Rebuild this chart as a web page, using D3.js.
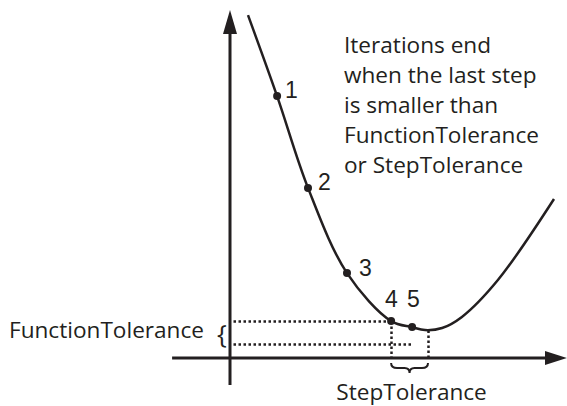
<!DOCTYPE html>
<html>
<head>
<meta charset="utf-8">
<script src="https://d3js.org/d3.v7.min.js"></script>
<style>
  body { margin: 0; background: #fff; }
</style>
</head>
<body>
<div id="chart"></div>
<script>
// curve (x, f(x)) in plot units
const curveX = [0.6, 1.57, 2.6, 3.9, 5.37, 6.07, 6.5, 7.07, 7.73, 8.93, 10.8];
const curveY = [11.43, 8.73, 5.67, 2.83, 1.23, 1.03, 0.93, 1.0, 1.37, 2.6, 5.3];

// iterates
const iterLabels = ["1", "2", "3", "4", "5"];
const iterX = [1.57, 2.6, 3.9, 5.37, 6.07];
const iterY = [8.73, 5.67, 2.83, 1.23, 1.03];

// tolerance box
const funTolTop = 1.23, funTolBottom = 0.47;
const stepTolLeft = 5.37, stepTolRight = 6.6;
const stepTolRightY = 0.93;

const noteLines = ["Iterations end", "when the last step", "is smaller than",
                   "FunctionTolerance", "or StepTolerance"];

const W = 567, H = 406;
const ink = "#231f20";

const x = d3.scaleLinear().domain([0, 11]).range([230, 560]);
const y = d3.scaleLinear().domain([0, 11.5]).range([358, 13]);

const svg = d3.select("#chart").append("svg")
  .attr("width", W).attr("height", H);

// axes with arrow heads
svg.append("line")
  .attr("x1", x(-1.93)).attr("x2", x(10.5))
  .attr("y1", y(0)).attr("y2", y(0))
  .attr("stroke", ink).attr("stroke-width", 3);
svg.append("path")
  .attr("d", `M${x(11.23)},${y(0)} L${x(10.5)},${y(0) - 7} L${x(10.5)},${y(0) + 7} Z`)
  .attr("fill", ink);

svg.append("line")
  .attr("x1", x(0)).attr("x2", x(0))
  .attr("y1", y(-0.9)).attr("y2", y(10.9))
  .attr("stroke", ink).attr("stroke-width", 3);
svg.append("path")
  .attr("d", `M${x(0)},${y(11.6)} L${x(0) - 7},${y(10.8)} L${x(0) + 7},${y(10.8)} Z`)
  .attr("fill", ink);

// dotted tolerance lines
const dotted = (x1, y1, x2, y2) => svg.append("line")
  .attr("x1", Math.round(x(x1)) + 0.5).attr("y1", Math.round(y(y1)) + 0.5)
  .attr("x2", Math.round(x(x2)) + 0.5).attr("y2", Math.round(y(y2)) + 0.5)
  .attr("stroke", ink).attr("stroke-width", 2.5)
  .attr("stroke-dasharray", "2.5,2.5");
dotted(0.1, funTolTop, stepTolLeft, funTolTop);
dotted(0.1, funTolBottom, iterX[4], funTolBottom);
dotted(stepTolLeft, funTolTop, stepTolLeft, 0);
dotted(stepTolRight, stepTolRightY, stepTolRight, 0);

// the function
const line = d3.line()
  .x(d => x(d[0])).y(d => y(d[1]))
  .curve(d3.curveCatmullRom.alpha(0.5));
svg.append("path")
  .datum(d3.zip(curveX, curveY))
  .attr("d", line)
  .attr("fill", "none")
  .attr("stroke", ink)
  .attr("stroke-width", 2.5);

// iterates
const labelOff = [[8, 2], [10, 2], [12, 3], [-6, -14], [-5, -20]];
svg.selectAll("circle.it")
  .data(iterX)
  .join("circle")
  .attr("cx", d => x(d))
  .attr("cy", (d, i) => y(iterY[i]))
  .attr("r", 4)
  .attr("fill", ink);
svg.selectAll("text.it")
  .data(iterLabels)
  .join("text")
  .attr("x", (d, i) => x(iterX[i]) + labelOff[i][0])
  .attr("y", (d, i) => y(iterY[i]) + labelOff[i][1])
  .attr("fill", ink)
  .attr("font-family", "Liberation Sans, Arial, sans-serif")
  .attr("font-size", 23)
  .text(d => d);

// step tolerance brace
const bx1 = x(stepTolLeft), bx2 = x(stepTolRight), bm = (bx1 + bx2) / 2, by = y(0) + 5;
svg.append("path")
  .attr("d", `M${bx1},${by} Q${bx1},${by + 5} ${bx1 + 6},${by + 5} L${bm - 5},${by + 5}
    Q${bm},${by + 5} ${bm},${by + 10} Q${bm},${by + 5} ${bm + 5},${by + 5}
    L${bx2 - 6},${by + 5} Q${bx2},${by + 5} ${bx2},${by}`)
  .attr("fill", "none").attr("stroke", ink).attr("stroke-width", 2);

const font = "'Open Sans', Lato, sans-serif";
const fs = 22.6;
svg.append("text")
  .attr("x", bm + 2).attr("y", 400)
  .attr("text-anchor", "middle")
  .attr("fill", ink)
  .attr("font-family", font).attr("font-size", fs)
  .text("StepTolerance");

// function tolerance label and brace
svg.append("text")
  .attr("x", 9).attr("y", 338)
  .attr("fill", ink)
  .attr("font-family", font).attr("font-size", fs)
  .text("FunctionTolerance");
svg.append("text")
  .attr("x", 217).attr("y", 343)
  .attr("fill", ink)
  .attr("font-family", font).attr("font-size", 26)
  .text("{");

// annotation
svg.append("text")
  .attr("fill", ink)
  .attr("font-family", font).attr("font-size", fs)
  .selectAll("tspan")
  .data(noteLines)
  .join("tspan")
  .attr("x", 344)
  .attr("y", (d, i) => 53 + i * 30)
  .text(d => d);
</script>
</body>
</html>
